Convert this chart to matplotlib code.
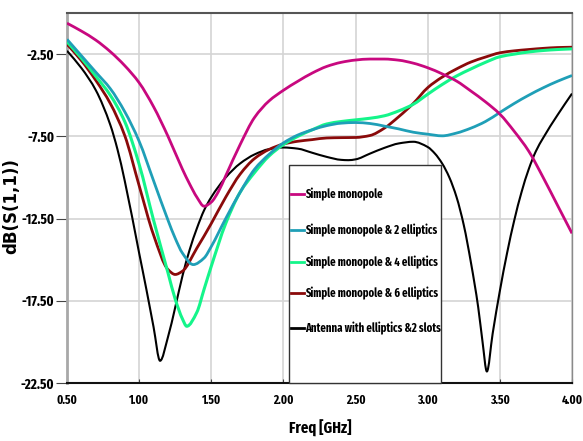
import os
import matplotlib
matplotlib.use("Agg")
import numpy as np
import matplotlib.pyplot as plt
from matplotlib import font_manager as fm
from matplotlib.patches import Rectangle, PathPatch
from matplotlib.lines import Line2D
from matplotlib.path import Path

# Return loss |S11| in dB versus frequency for each antenna variant
freq_mono = [0.5, 0.6, 0.7, 0.8, 0.9, 1.0, 1.1, 1.2, 1.3, 1.35, 1.4, 1.45, 1.5, 1.55, 1.6,
             1.7, 1.8, 1.9, 2.0, 2.1, 2.2, 2.3, 2.4, 2.5, 2.6, 2.7, 2.8, 2.9, 3.0, 3.1,
             3.2, 3.3, 3.4, 3.5, 3.6, 3.7, 3.8, 3.9, 4.0]
s11_mono = [-0.62, -1.1, -1.65, -2.35, -3.2, -4.24, -5.7, -7.5, -9.5, -10.4, -11.2, -11.75,
            -11.5, -10.85, -9.9, -8.0, -6.35, -5.35, -4.7, -4.15, -3.65, -3.25, -3.0, -2.86,
            -2.8, -2.8, -2.87, -3.05, -3.33, -3.7, -4.14, -4.75, -5.4, -6.15, -7.2, -8.4,
            -10.0, -11.7, -13.4]

freq_ell2 = [0.5, 0.6, 0.7, 0.8, 0.9, 1.0, 1.1, 1.2, 1.25, 1.3, 1.375, 1.45, 1.5, 1.6, 1.7,
             1.8, 1.9, 2.0, 2.1, 2.2, 2.3, 2.4, 2.5, 2.6, 2.7, 2.8, 2.9, 3.0, 3.1, 3.2,
             3.3, 3.4, 3.5, 3.6, 3.7, 3.8, 3.9, 4.0]
s11_ell2 = [-1.6, -2.6, -3.6, -4.6, -6.0, -7.8, -10.2, -12.6, -13.7, -14.6, -15.3, -14.9,
            -14.2, -12.5, -10.9, -9.5, -8.6, -7.9, -7.42, -7.1, -6.85, -6.7, -6.66, -6.72,
            -6.88, -7.05, -7.25, -7.37, -7.47, -7.3, -7.0, -6.6, -6.05, -5.5, -5.0, -4.55,
            -4.15, -3.8]

freq_ell4 = [0.5, 0.6, 0.7, 0.8, 0.9, 1.0, 1.1, 1.2, 1.25, 1.3, 1.33, 1.4, 1.45, 1.5, 1.6,
             1.7, 1.8, 1.9, 2.0, 2.1, 2.2, 2.3, 2.4, 2.5, 2.6, 2.7, 2.8, 2.9, 3.0, 3.1,
             3.2, 3.3, 3.4, 3.5, 3.6, 3.7, 3.8, 3.9, 4.0]
s11_ell4 = [-1.75, -2.75, -3.85, -5.0, -6.6, -9.2, -12.6, -15.8, -17.4, -18.6, -19.05, -18.2,
            -16.8, -15.4, -12.8, -10.9, -9.7, -8.7, -8.0, -7.5, -7.1, -6.75, -6.6, -6.5,
            -6.4, -6.25, -5.95, -5.55, -4.94, -4.35, -3.83, -3.4, -3.0, -2.66, -2.5, -2.37,
            -2.28, -2.22, -2.18]

freq_ell6 = [0.5, 0.6, 0.7, 0.8, 0.9, 1.0, 1.1, 1.2, 1.25, 1.3, 1.4, 1.5, 1.6, 1.7, 1.8,
             1.9, 2.0, 2.1, 2.2, 2.3, 2.4, 2.5, 2.6, 2.7, 2.8, 2.9, 3.0, 3.1, 3.2, 3.3,
             3.4, 3.5, 3.6, 3.7, 3.8, 3.9, 4.0]
s11_ell6 = [-1.9, -2.9, -4.1, -5.5, -7.45, -10.5, -13.5, -15.6, -15.9, -15.7, -14.3, -12.8,
            -11.2, -9.8, -8.85, -8.3, -7.97, -7.8, -7.7, -7.6, -7.58, -7.57, -7.45, -7.0,
            -6.3, -5.5, -4.54, -3.9, -3.4, -2.98, -2.68, -2.42, -2.3, -2.22, -2.15, -2.1,
            -2.08]

freq_slot = [0.5, 0.6, 0.7, 0.8, 0.85, 0.9, 1.0, 1.05, 1.1, 1.145, 1.2, 1.25, 1.3, 1.35,
             1.4, 1.45, 1.5, 1.6, 1.7, 1.8, 1.9, 2.0, 2.1, 2.2, 2.3, 2.4, 2.45, 2.5, 2.6,
             2.7, 2.8, 2.9, 3.0, 3.05, 3.1, 3.15, 3.2, 3.25, 3.3, 3.35, 3.38, 3.41, 3.45,
             3.5, 3.55, 3.6, 3.65, 3.7, 3.75, 3.8, 3.9, 4.0]
s11_slot = [-2.3, -3.35, -4.7, -6.8, -8.3, -10.2, -14.6, -16.8, -19.1, -21.15, -19.7, -17.9,
            -16.0, -14.4, -13.1, -12.0, -11.2, -10.0, -9.15, -8.6, -8.28, -8.18, -8.25, -8.5,
            -8.75, -8.93, -8.95, -8.9, -8.55, -8.2, -7.93, -7.83, -8.15, -8.55, -9.15, -10.0,
            -11.2, -12.9, -15.2, -17.9, -20.0, -21.8, -19.5, -16.9, -14.6, -12.6, -10.9,
            -9.5, -8.4, -7.6, -6.2, -4.9]

labels = ["Simple monopole",
          "Simple monopole & 2 elliptics",
          "Simple monopole & 4 elliptics",
          "Simple monopole & 6 elliptics",
          "Antenna with elliptics &2 slots"]
colors = ["#c8087f", "#1f9fb7", "#14f58a", "#8a0a0a", "#000000"]
widths = [2.0, 2.0, 2.2, 2.0, 1.5]

x_ticks = [0.5, 1.0, 1.5, 2.0, 2.5, 3.0, 3.5, 4.0]
y_ticks = [-22.5, -17.5, -12.5, -7.5, -2.5]


def narrow_bold_font():
    """Prefer the narrowest bold sans face available; fall back to Liberation Sans Bold."""
    def weight_num(w):
        if isinstance(w, (int, float)):
            return float(w)
        return {"bold": 700, "heavy": 900, "black": 900, "semibold": 600,
                "demibold": 600, "extra bold": 800}.get(str(w).lower(), 400)
    cands = [f for f in fm.fontManager.ttflist
             if f.stretch in ("condensed", "semi-condensed", "extra-condensed", "ultra-condensed")
             and 600 <= weight_num(f.weight) <= 800 and f.style == "normal"
             and not any(k in f.name for k in ("Mono", "Serif", "CJK"))]
    if cands:
        def rank(f):
            base = os.path.basename(f.fname).lower()
            if "extracondensed" in base or "extra condensed" in base:
                width_rank = 0
            elif "semicondensed" in base:
                width_rank = 2
            else:
                width_rank = 1
            return (width_rank, abs(weight_num(f.weight) - 700), base)
        cands.sort(key=rank)
        return fm.FontProperties(fname=cands[0].fname)
    return fm.FontProperties(family=["Liberation Sans", "DejaVu Sans"], weight="bold")


def smooth_curve(x, y):
    """Bezier path through the samples using monotone (PCHIP-style) tangents."""
    x = np.asarray(x, float)
    y = np.asarray(y, float)
    h = np.diff(x)
    d = np.diff(y) / h
    m = np.empty_like(y)
    m[0], m[-1] = d[0], d[-1]
    for k in range(1, len(x) - 1):
        if d[k - 1] * d[k] <= 0:
            m[k] = 0.0
        else:
            w1 = 2 * h[k] + h[k - 1]
            w2 = h[k] + 2 * h[k - 1]
            m[k] = (w1 + w2) / (w1 / d[k - 1] + w2 / d[k])
    verts = [(x[0], y[0])]
    codes = [Path.MOVETO]
    for k in range(len(x) - 1):
        verts += [(x[k] + h[k] / 3, y[k] + m[k] * h[k] / 3),
                  (x[k + 1] - h[k] / 3, y[k + 1] - m[k + 1] * h[k] / 3),
                  (x[k + 1], y[k + 1])]
        codes += [Path.CURVE4] * 3
    return Path(verts, codes)


W, H = 583, 441
fig = plt.figure(figsize=(W / 100, H / 100), dpi=100)
renderer = fig.canvas.get_renderer()
base_font = narrow_bold_font()


def sized_font(sample, target_px, max_pt):
    """Font size that makes `sample` about target_px wide, capped at max_pt."""
    fp = base_font.copy()
    fp.set_size(10)
    w, _, _ = renderer.get_text_width_height_descent(sample, fp, ismath=False)
    fp.set_size(min(max_pt, 10 * target_px / w))
    return fp


ax = fig.add_axes([67 / W, (H - 383) / H, (572 - 67) / W, (383 - 13) / H])

series = [(freq_mono, s11_mono), (freq_ell2, s11_ell2), (freq_ell4, s11_ell4),
          (freq_ell6, s11_ell6), (freq_slot, s11_slot)]
for i in [4, 3, 2, 1, 0]:
    fx, fy = series[i]
    ax.add_patch(PathPatch(smooth_curve(fx, fy), fill=False, edgecolor=colors[i],
                           lw=widths[i], joinstyle="round", zorder=3 + (4 - i) * 0.01))

ax.set_xlim(0.5, 4.0)
ax.set_ylim(-22.5, 0.0)
ax.set_xticks(x_ticks)
ax.set_yticks(y_ticks)
ax.set_xticklabels([f"{v:.2f}" for v in x_ticks], fontproperties=sized_font("0.50", 21, 13))
ax.set_yticklabels([f"{v:.2f}" for v in y_ticks], fontproperties=sized_font("-12.50", 33, 12))
ax.tick_params(axis="x", direction="in", length=3, pad=8, color="#444444")
ax.tick_params(axis="y", direction="out", length=8, pad=1, color="#444444")
ax.grid(True, color="#d4d4d4", lw=1.2, zorder=0)

ax.spines["left"].set_color("#a8a8a8")
ax.spines["left"].set_linewidth(2.0)
ax.spines["top"].set_color("#555555")
ax.spines["top"].set_linewidth(1.5)
ax.spines["right"].set_color("#8a8a8a")
ax.spines["right"].set_linewidth(1.0)
ax.spines["bottom"].set_color("#111111")
ax.spines["bottom"].set_linewidth(1.5)

fig.text(320 / W, 1 - 428 / H, "Freq [GHz]", fontproperties=sized_font("Freq [GHz]", 62, 14),
         ha="center", va="center")
fig.text(11 / W, 1 - 206 / H, "dB(S(1,1))", family="DejaVu Sans", fontweight="bold",
         fontsize=12, rotation=90, ha="center", va="center")

# Legend panel
box_l, box_r, box_t, box_b = 289, 441, 165, 383
fig.patches.append(Rectangle((box_l / W, 1 - box_b / H), (box_r - box_l) / W, (box_b - box_t) / H,
                             transform=fig.transFigure, facecolor="white", edgecolor="#333333",
                             lw=1.0, zorder=5))
legend_font = sized_font("Simple monopole & 2 elliptics", 133, 11.5)
entry_y = [194, 230, 262, 293, 328]
for lab, col, py in zip(labels, colors, entry_y):
    fig.lines.append(Line2D([291 / W, 304 / W], [1 - py / H, 1 - py / H], transform=fig.transFigure,
                            color=col, lw=2.0, zorder=6))
    fig.text(305 / W, 1 - py / H, lab, fontproperties=legend_font, ha="left", va="center",
             zorder=7)

fig.savefig("out.png", dpi=100)
